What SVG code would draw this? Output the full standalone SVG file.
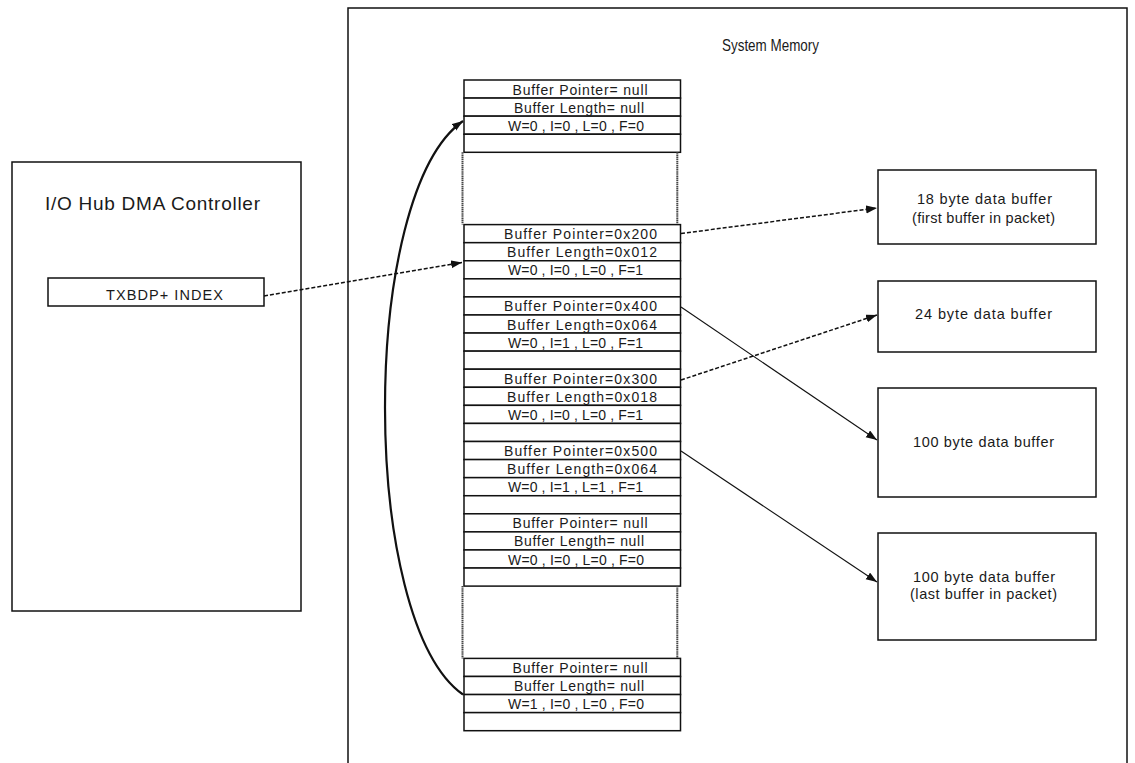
<svg xmlns="http://www.w3.org/2000/svg" width="1135" height="763" viewBox="0 0 1135 763">
<style>
.box{fill:#fff;stroke:#111;stroke-width:1.5}
.row{fill:#fff;stroke:#111;stroke-width:1.5}
.gap{fill:none;stroke:#444;stroke-width:2;stroke-dasharray:1.5 0.6}
.t{font-family:"Liberation Sans",Arial,sans-serif;fill:#1a1a1a}
.rt{font-size:14px}
.bt{font-size:14.5px}
.c{fill:none;stroke:#111}
.dash{stroke-width:1.5;stroke-dasharray:4 2}
.solid{stroke-width:1.1}
</style>
<defs>
<marker id="ah" markerUnits="userSpaceOnUse" markerWidth="12" markerHeight="9" refX="11" refY="4" orient="auto">
<path d="M0,0 L11,4 L0,8 z" fill="#111"/>
</marker>
</defs>

<g id="system-memory">
<rect class="box" x="348" y="8" width="779" height="780"/>
<text class="t" x="722" y="51" font-size="16.5" textLength="97" lengthAdjust="spacingAndGlyphs">System Memory</text>
</g>

<g id="io-hub">
<rect class="box" x="12" y="162" width="289" height="449"/>
<text class="t" x="45" y="210" font-size="19" textLength="215" lengthAdjust="spacing">I/O Hub DMA Controller</text>
</g>

<g id="txbdp-index">
<rect class="box" x="48" y="278" width="216" height="28"/>
<text class="t" x="106" y="300" font-size="14.5" textLength="117" lengthAdjust="spacing">TXBDP+ INDEX</text>
</g>

<g id="bd-top">
<rect class="row" x="464" y="80" width="216.5" height="18.08"/>
<rect class="row" x="464" y="98.08" width="216.5" height="18.07"/>
<rect class="row" x="464" y="116.15" width="216.5" height="18.08"/>
<rect class="row" x="464" y="134.23" width="216.5" height="18.07"/>
<text class="t rt" x="512.5" y="94.5" textLength="135" lengthAdjust="spacing">Buffer Pointer= null</text>
<text class="t rt" x="514" y="112.6" textLength="130" lengthAdjust="spacing">Buffer Length= null</text>
<text class="t rt" x="508" y="130.7" textLength="136" lengthAdjust="spacing">W=0 , I=0 , L=0 , F=0</text>
</g>

<g id="gap-1">
<line class="gap" x1="462.5" y1="152.3" x2="462.5" y2="224.6"/>
<line class="gap" x1="677.3" y1="152.3" x2="677.3" y2="224.6"/>
</g>

<g id="bd-0x200">
<rect class="row" x="464" y="224.6" width="216.5" height="18.08"/>
<rect class="row" x="464" y="242.68" width="216.5" height="18.07"/>
<rect class="row" x="464" y="260.75" width="216.5" height="18.08"/>
<rect class="row" x="464" y="278.83" width="216.5" height="18.07"/>
<text class="t rt" x="504" y="239.1" textLength="153" lengthAdjust="spacing">Buffer Pointer=0x200</text>
<text class="t rt" x="507" y="257.2" textLength="150" lengthAdjust="spacing">Buffer Length=0x012</text>
<text class="t rt" x="508" y="275.3" textLength="135" lengthAdjust="spacing">W=0 , I=0 , L=0 , F=1</text>
</g>

<g id="bd-0x400">
<rect class="row" x="464" y="296.9" width="216.5" height="18.08"/>
<rect class="row" x="464" y="314.98" width="216.5" height="18.07"/>
<rect class="row" x="464" y="333.05" width="216.5" height="18.08"/>
<rect class="row" x="464" y="351.13" width="216.5" height="18.07"/>
<text class="t rt" x="504" y="311.4" textLength="153" lengthAdjust="spacing">Buffer Pointer=0x400</text>
<text class="t rt" x="507" y="329.5" textLength="150" lengthAdjust="spacing">Buffer Length=0x064</text>
<text class="t rt" x="508" y="347.6" textLength="135" lengthAdjust="spacing">W=0 , I=1 , L=0 , F=1</text>
</g>

<g id="bd-0x300">
<rect class="row" x="464" y="369.2" width="216.5" height="18.08"/>
<rect class="row" x="464" y="387.28" width="216.5" height="18.07"/>
<rect class="row" x="464" y="405.35" width="216.5" height="18.08"/>
<rect class="row" x="464" y="423.43" width="216.5" height="18.07"/>
<text class="t rt" x="504" y="383.7" textLength="153" lengthAdjust="spacing">Buffer Pointer=0x300</text>
<text class="t rt" x="507" y="401.8" textLength="150" lengthAdjust="spacing">Buffer Length=0x018</text>
<text class="t rt" x="508" y="419.9" textLength="135" lengthAdjust="spacing">W=0 , I=0 , L=0 , F=1</text>
</g>

<g id="bd-0x500">
<rect class="row" x="464" y="441.5" width="216.5" height="18.08"/>
<rect class="row" x="464" y="459.58" width="216.5" height="18.07"/>
<rect class="row" x="464" y="477.65" width="216.5" height="18.08"/>
<rect class="row" x="464" y="495.73" width="216.5" height="18.07"/>
<text class="t rt" x="504" y="456" textLength="153" lengthAdjust="spacing">Buffer Pointer=0x500</text>
<text class="t rt" x="507" y="474.1" textLength="150" lengthAdjust="spacing">Buffer Length=0x064</text>
<text class="t rt" x="508" y="492.2" textLength="135" lengthAdjust="spacing">W=0 , I=1 , L=1 , F=1</text>
</g>

<g id="bd-null-1">
<rect class="row" x="464" y="513.8" width="216.5" height="18.08"/>
<rect class="row" x="464" y="531.88" width="216.5" height="18.07"/>
<rect class="row" x="464" y="549.95" width="216.5" height="18.08"/>
<rect class="row" x="464" y="568.03" width="216.5" height="18.07"/>
<text class="t rt" x="512.5" y="528.3" textLength="135" lengthAdjust="spacing">Buffer Pointer= null</text>
<text class="t rt" x="514" y="546.4" textLength="130" lengthAdjust="spacing">Buffer Length= null</text>
<text class="t rt" x="508" y="564.5" textLength="136" lengthAdjust="spacing">W=0 , I=0 , L=0 , F=0</text>
</g>

<g id="gap-2">
<line class="gap" x1="462.5" y1="586.1" x2="462.5" y2="658.4"/>
<line class="gap" x1="677.3" y1="586.1" x2="677.3" y2="658.4"/>
</g>

<g id="bd-last">
<rect class="row" x="464" y="658.4" width="216.5" height="18.08"/>
<rect class="row" x="464" y="676.48" width="216.5" height="18.07"/>
<rect class="row" x="464" y="694.55" width="216.5" height="18.08"/>
<rect class="row" x="464" y="712.63" width="216.5" height="18.07"/>
<text class="t rt" x="512.5" y="672.9" textLength="135" lengthAdjust="spacing">Buffer Pointer= null</text>
<text class="t rt" x="514" y="691" textLength="130" lengthAdjust="spacing">Buffer Length= null</text>
<text class="t rt" x="508" y="709.1" textLength="136" lengthAdjust="spacing">W=1 , I=0 , L=0 , F=0</text>
</g>

<g id="buf-18">
<rect class="box" x="878" y="170" width="218" height="74"/>
<text class="t bt" x="917" y="204" textLength="135" lengthAdjust="spacing">18 byte data buffer</text>
<text class="t bt" x="912" y="223" textLength="143" lengthAdjust="spacing">(first buffer in packet)</text>
</g>

<g id="buf-24">
<rect class="box" x="878" y="281" width="218" height="71"/>
<text class="t bt" x="915" y="319" textLength="137" lengthAdjust="spacing">24 byte data buffer</text>
</g>

<g id="buf-100a">
<rect class="box" x="878" y="388" width="218" height="109"/>
<text class="t bt" x="913" y="446.5" textLength="141" lengthAdjust="spacing">100 byte data buffer</text>
</g>

<g id="buf-100b">
<rect class="box" x="878" y="533" width="218" height="107"/>
<text class="t bt" x="913" y="581.5" textLength="142" lengthAdjust="spacing">100 byte data buffer</text>
<text class="t bt" x="910" y="598.5" textLength="147" lengthAdjust="spacing">(last buffer in packet)</text>
</g>

<g id="connectors">
<path class="c dash" d="M264,296 L462,262.5" marker-end="url(#ah)"/>
<path class="c" stroke-width="2.2" d="M463,694.5 C359,621 359,194 463,121" marker-end="url(#ah)"/>
<path class="c dash" d="M681,233.5 L877,208" marker-end="url(#ah)"/>
<path class="c solid" d="M681,307 L877,440" marker-end="url(#ah)"/>
<path class="c dash" d="M681,380 L877,315" marker-end="url(#ah)"/>
<path class="c solid" d="M681,451 L877,582" marker-end="url(#ah)"/>
</g>
</svg>
